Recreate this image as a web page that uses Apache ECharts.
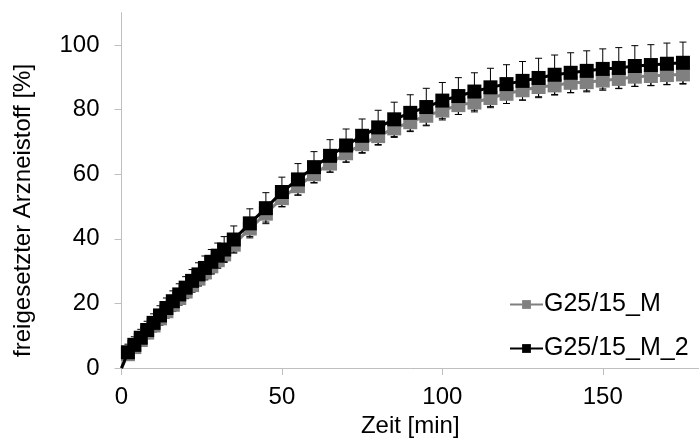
<!DOCTYPE html>
<html>
<head>
<meta charset="utf-8">
<script src="https://cdn.jsdelivr.net/npm/echarts@6/dist/echarts.min.js"></script>
<style>html,body{margin:0;padding:0;background:#fff}#c{width:699px;height:443px}</style>
</head>
<body>
<div id="c"></div>
<script>
const times = [0, 2, 4, 6, 8, 10, 12, 14, 16, 18, 20, 22, 24, 26, 28, 30, 32,
  35, 40, 45, 50, 55, 60, 65, 70, 75, 80, 85, 90, 95, 100, 105, 110, 115, 120,
  125, 130, 135, 140, 145, 150, 155, 160, 165, 170, 175];
const seriesNames = ['G25/15_M', 'G25/15_M_2'];
const grayValues = [0, 4.3, 6.5, 8.7, 11.0, 13.2, 15.4, 17.6, 19.6, 21.7, 23.7, 25.7, 27.7, 29.6, 31.5, 33.4, 35.2,
  38.2, 43.2, 47.8, 52.6, 56.3, 60.0, 63.3, 66.5, 69.3, 71.8, 74.2, 76.1, 78.1, 79.7, 81.4, 82.2, 83.6, 84.9,
  86.0, 87.0, 87.5, 88.3, 88.5, 89.0, 89.5, 90.2, 90.4, 90.7, 90.9];
const blackValues = [0, 4.9, 7.2, 9.4, 11.8, 14.0, 16.3, 18.6, 20.7, 22.8, 24.9, 27.0, 29.0, 31.0, 32.9, 34.8, 36.7,
  39.8, 44.8, 49.5, 54.5, 58.4, 62.2, 65.7, 68.9, 71.9, 74.5, 77.0, 79.0, 80.8, 82.8, 84.2, 85.6, 86.9, 87.9,
  88.9, 89.8, 90.8, 91.4, 92.0, 92.6, 92.9, 93.5, 93.8, 94.2, 94.5];
const graySD = [0, 1.5, 1.5, 1.5, 1.6, 1.6, 1.7, 1.7, 1.8, 1.8, 1.9, 1.9, 2.0, 2.0, 2.1, 2.1, 2.2,
  2.3, 2.5, 2.6, 2.6, 2.7, 2.7, 2.7, 2.8, 2.8, 2.8, 2.8, 2.9, 2.9, 2.9, 2.9, 2.9, 3.0, 3.0,
  3.0, 3.0, 3.0, 3.0, 3.0, 3.0, 3.0, 3.0, 3.0, 3.0, 3.0];
const blackSD = [0, 2.5, 2.5, 2.6, 2.7, 2.8, 3.0, 3.1, 3.2, 3.3, 3.4, 3.5, 3.6, 3.7, 3.8, 3.9, 4.0,
  4.2, 4.5, 4.8, 4.6, 4.9, 4.8, 5.0, 5.1, 5.2, 5.3, 5.3, 5.6, 5.8, 5.6, 5.7, 5.8, 5.9, 6.0,
  6.0, 6.1, 6.1, 6.2, 6.2, 6.2, 6.3, 6.3, 6.3, 6.4, 6.4];
const xTicks = [0, 50, 100, 150];
const yTicks = [0, 20, 40, 60, 80, 100];

const FONT = 'Liberation Sans, Arial, sans-serif';

function lineData(vals) {
  return times.map((t, i) => i === 0 ? { value: [t, vals[i]], symbol: 'none' } : [t, vals[i]]);
}
function errData(vals, sd) {
  return times.map((t, i) => [t, vals[i] - sd[i], vals[i] + sd[i]]);
}
function renderErr(params, api) {
  const lo = api.value(1), hi = api.value(2);
  if (hi === lo) return null;
  const x = api.value(0);
  const p1 = api.coord([x, lo]);
  const p2 = api.coord([x, hi]);
  const w = 3.5;
  const st = { stroke: '#000', lineWidth: 1 };
  return {
    type: 'group',
    children: [
      { type: 'line', shape: { x1: p1[0], y1: p1[1], x2: p2[0], y2: p2[1] }, style: st },
      { type: 'line', shape: { x1: p1[0] - w, y1: p1[1], x2: p1[0] + w, y2: p1[1] }, style: st },
      { type: 'line', shape: { x1: p2[0] - w, y1: p2[1], x2: p2[0] + w, y2: p2[1] }, style: st }
    ]
  };
}

const chart = echarts.init(document.getElementById('c'), null, { renderer: 'canvas' });
chart.setOption({
  animation: false,
  backgroundColor: '#fff',
  textStyle: { fontFamily: FONT },
  grid: { left: 121.5, top: 12.7, bottom: 67.7, right: -11, containLabel: false },
  legend: {
    orient: 'vertical',
    left: 509,
    top: 292,
    padding: 0,
    itemWidth: 33,
    itemHeight: 11,
    itemGap: 19,
    data: seriesNames,
    textStyle: { fontFamily: FONT, fontSize: 25, color: '#000', lineHeight: 25, padding: [0, 0, 0, -4] }
  },
  xAxis: {
    type: 'value',
    min: 0,
    max: 180,
    name: 'Zeit [min]',
    nameLocation: 'middle',
    nameGap: 45,
    nameTextStyle: { fontFamily: FONT, fontSize: 24, color: '#000' },
    splitLine: { show: false },
    axisLine: { lineStyle: { color: '#bfbfbf', width: 1 } },
    axisTick: { show: true, inside: false, length: 7, lineStyle: { color: '#bfbfbf' }, customValues: xTicks },
    axisLabel: { fontFamily: FONT, fontSize: 24, color: '#000', margin: 17, customValues: xTicks }
  },
  yAxis: {
    type: 'value',
    min: 0,
    max: 110,
    name: 'freigesetzter Arzneistoff [%]',
    nameLocation: 'middle',
    nameGap: 86,
    nameTextStyle: { fontFamily: FONT, fontSize: 24, color: '#000', padding: [0, 40, 0, 0] },
    splitLine: { show: false },
    axisLine: { show: true, lineStyle: { color: '#bfbfbf', width: 1 } },
    axisTick: { show: true, inside: false, length: 7, lineStyle: { color: '#bfbfbf' }, customValues: yTicks },
    axisLabel: { fontFamily: FONT, fontSize: 24, color: '#000', margin: 22, customValues: yTicks }
  },
  series: [
    {
      type: 'custom', name: 'err1', z: 1, silent: true,
      renderItem: renderErr, data: errData(grayValues, graySD), encode: { x: 0, y: [1, 2] }
    },
    {
      type: 'custom', name: 'err2', z: 1, silent: true,
      renderItem: renderErr, data: errData(blackValues, blackSD), encode: { x: 0, y: [1, 2] }
    },
    {
      type: 'line', name: seriesNames[0], z: 3,
      data: lineData(grayValues),
      symbol: 'rect', symbolSize: 14, showAllSymbol: true,
      lineStyle: { color: '#808080', width: 3 },
      itemStyle: { color: '#808080', borderWidth: 0 }
    },
    {
      type: 'line', name: seriesNames[1], z: 4,
      data: lineData(blackValues),
      symbol: 'rect', symbolSize: 14, showAllSymbol: true,
      lineStyle: { color: '#000', width: 3 },
      itemStyle: { color: '#000', borderWidth: 0 }
    }
  ]
});
</script>
</body>
</html>
